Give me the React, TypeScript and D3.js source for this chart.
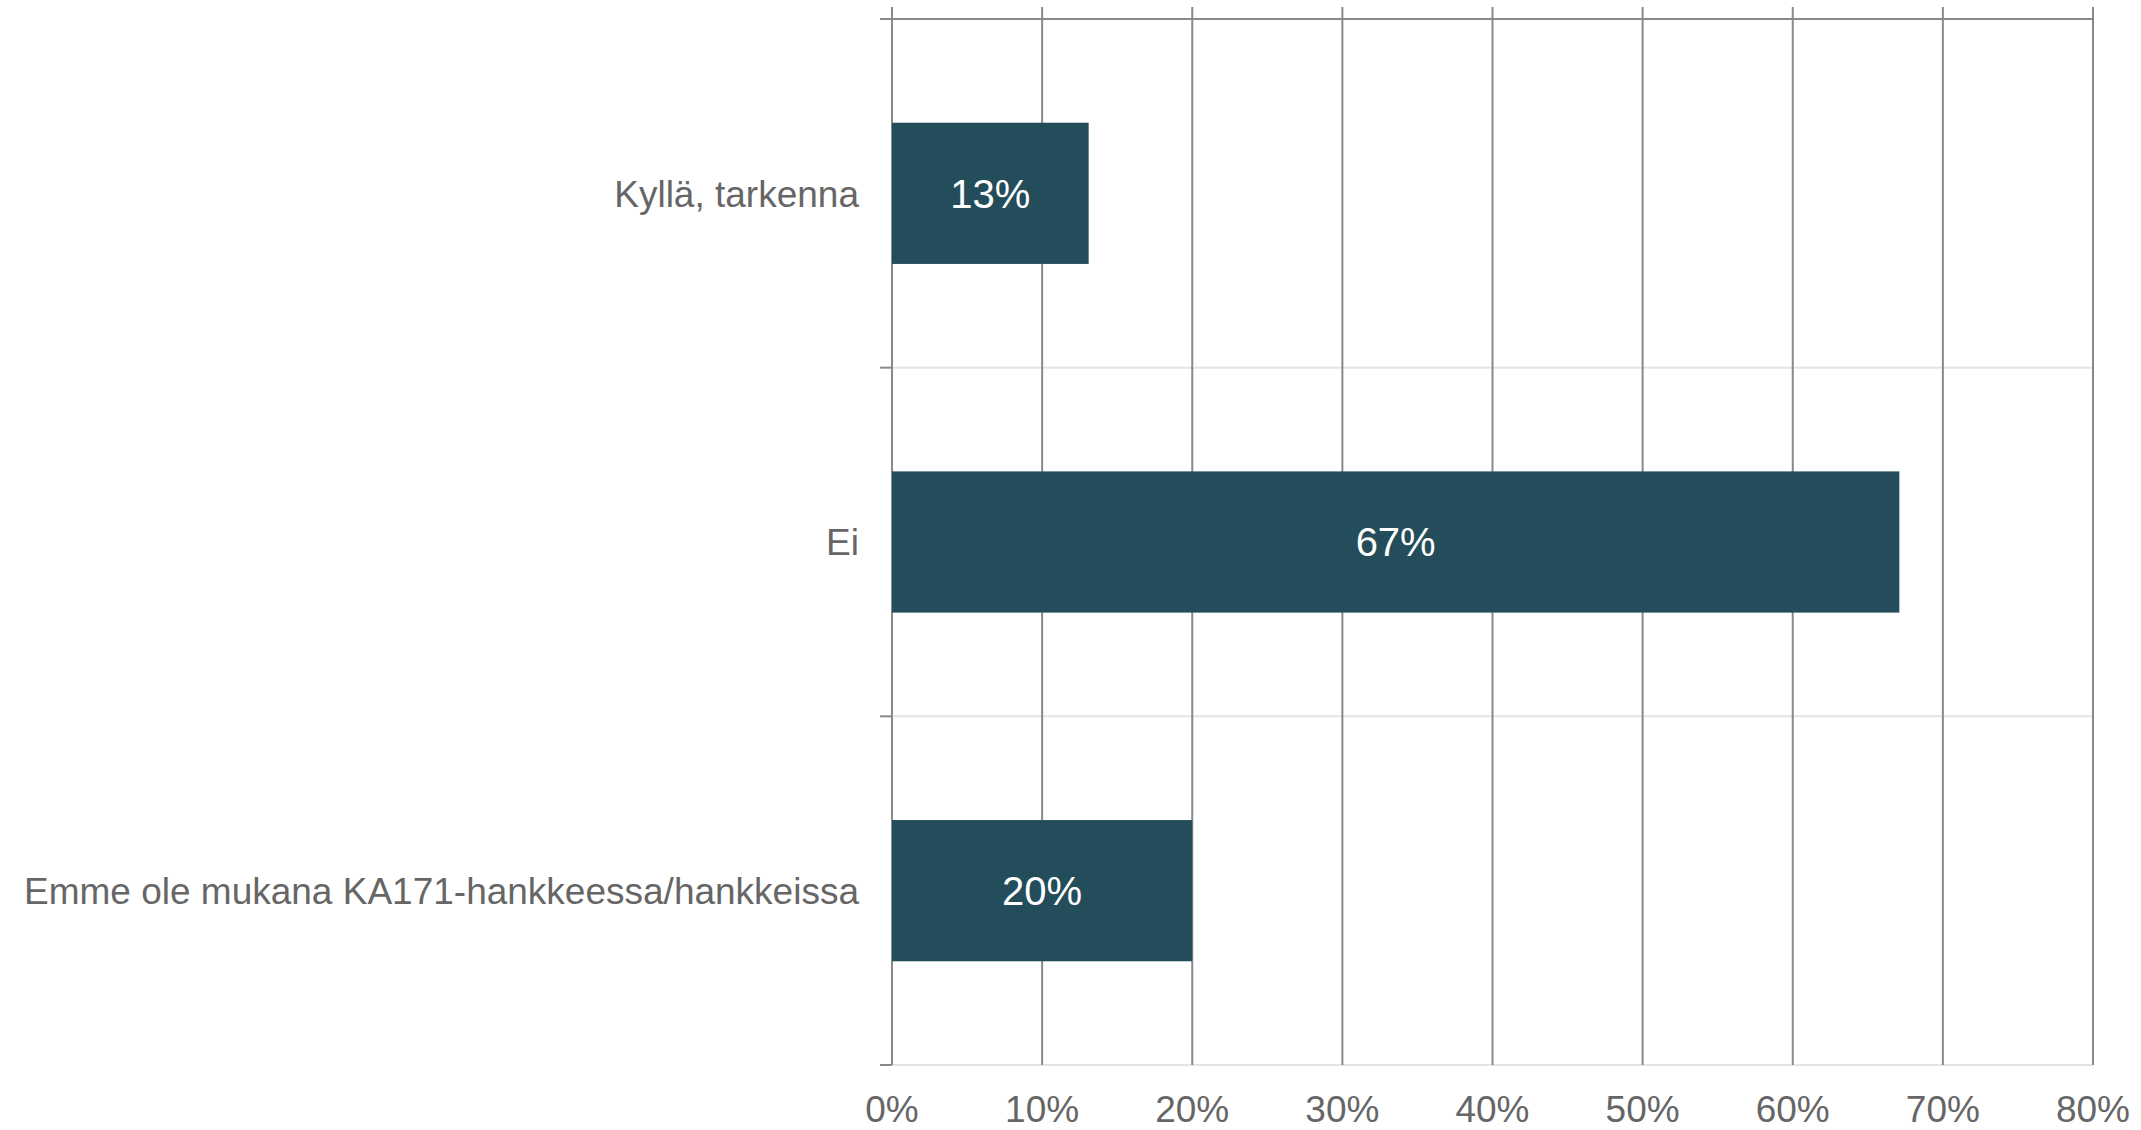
import { useEffect, useRef } from 'react'
import * as d3 from 'd3'

const categories = ['Kyllä, tarkenna', 'Ei', 'Emme ole mukana KA171-hankkeessa/hankkeissa']
const values = [0.131, 0.671, 0.2]
const valueLabels = ['13%', '67%', '20%']
const xTicks = [0, 0.1, 0.2, 0.3, 0.4, 0.5, 0.6, 0.7, 0.8]

const W = 2141
const H = 1130
const FONT = '"Liberation Sans", Arial, sans-serif'

export default function App() {
  const svgRef = useRef<SVGSVGElement>(null)

  useEffect(() => {
    if (!svgRef.current) return
    const svg = d3.select(svgRef.current)
    svg.selectAll('*').remove()

    const margin = { top: 19, right: 48, bottom: 65, left: 892 }

    const x = d3
      .scaleLinear()
      .domain([0, 0.8])
      .range([margin.left, W - margin.right])

    const p = 0.595
    const y = d3
      .scaleBand<string>()
      .domain(categories)
      .range([margin.top, H - margin.bottom])
      .paddingInner(p)
      .paddingOuter(p / 2)

    const [y0, y1] = y.range()
    const boundaries = d3.range(categories.length + 1).map(i => y0 + i * y.step())

    const g = svg.append('g')

    // light horizontal lines at category boundaries
    g.selectAll('.hgrid')
      .data(boundaries.slice(1))
      .join('line')
      .attr('x1', x(0))
      .attr('x2', x(0.8))
      .attr('y1', d => d)
      .attr('y2', d => d)
      .attr('stroke', '#e4e4e4')
      .attr('stroke-width', 2)

    // vertical gridlines (with small ticks above the top axis)
    g.selectAll('.vgrid')
      .data(xTicks)
      .join('line')
      .attr('x1', d => x(d))
      .attr('x2', d => x(d))
      .attr('y1', y0 - 12)
      .attr('y2', y1)
      .attr('stroke', '#898989')
      .attr('stroke-width', 2)

    // top value axis line
    g.append('line')
      .attr('x1', x(0) - 12)
      .attr('x2', x(0.8))
      .attr('y1', y0)
      .attr('y2', y0)
      .attr('stroke', '#898989')
      .attr('stroke-width', 2)

    // left category ticks
    g.selectAll('.ltick')
      .data(boundaries)
      .join('line')
      .attr('x1', x(0) - 12)
      .attr('x2', x(0))
      .attr('y1', d => d)
      .attr('y2', d => d)
      .attr('stroke', '#898989')
      .attr('stroke-width', 2)

    // bars
    g.selectAll('.bar')
      .data(categories)
      .join('rect')
      .attr('x', x(0))
      .attr('y', d => y(d)!)
      .attr('width', (_, i) => x(values[i]) - x(0))
      .attr('height', y.bandwidth())
      .attr('fill', '#234D5B')

    // value labels
    g.selectAll('.vlabel')
      .data(categories)
      .join('text')
      .attr('x', (_, i) => (x(0) + x(values[i])) / 2)
      .attr('y', d => y(d)! + y.bandwidth() / 2)
      .attr('dy', '0.36em')
      .attr('text-anchor', 'middle')
      .attr('fill', '#ffffff')
      .attr('font-family', FONT)
      .attr('font-size', 40)
      .text((_, i) => valueLabels[i])

    // category labels
    g.selectAll('.clabel')
      .data(categories)
      .join('text')
      .attr('x', x(0) - 33)
      .attr('y', d => y(d)! + y.bandwidth() / 2)
      .attr('dy', '0.36em')
      .attr('text-anchor', 'end')
      .attr('fill', '#666666')
      .attr('font-family', FONT)
      .attr('font-size', 37)
      .text(d => d)

    // x tick labels
    g.selectAll('.xlabel')
      .data(xTicks)
      .join('text')
      .attr('x', d => x(d))
      .attr('y', y1 + 57)
      .attr('text-anchor', 'middle')
      .attr('fill', '#666666')
      .attr('font-family', FONT)
      .attr('font-size', 37)
      .text(d => d3.format('.0%')(d))
  }, [])

  return (
    <svg
      ref={svgRef}
      width={W}
      height={H}
      style={{ position: 'absolute', left: 0, top: 0, background: '#ffffff' }}
    />
  )
}
